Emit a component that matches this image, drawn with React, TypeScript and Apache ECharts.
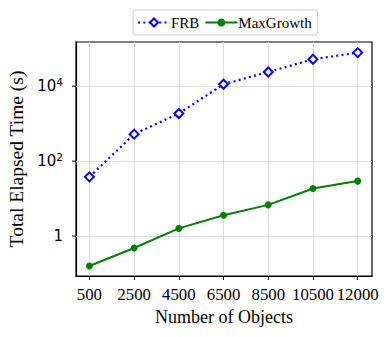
import React, { useEffect, useRef } from 'react';
import * as echarts from 'echarts';

const categories = ['500', '2500', '4500', '6500', '8500', '10500', '12000'];
const frbTimes = [38, 525, 1870, 11300, 24000, 52500, 79000];
const maxGrowthTimes = [0.158, 0.48, 1.6, 3.6, 6.8, 18.6, 29.3];
const yMajorTicks = [1, 100, 10000];
const yTickLabels = ['{b|1}', '{b|10}{s|2}', '{b|10}{s|4}'];

const SERIF = '"Liberation Serif", "Times New Roman", serif';
const SANS = '"DejaVu Sans", sans-serif';

export default function App() {
  const ref = useRef<HTMLDivElement>(null);
  useEffect(() => {
    const chart = echarts.init(ref.current!, null, { renderer: 'svg' });
    const idx = categories.map((_, i) => i);
    const gridLeft = 76;
    const option: any = {
      animation: false,
      backgroundColor: '#fff',
      grid: {
        left: gridLeft, top: 42, width: 296, height: 234,
        show: true, borderColor: '#000', borderWidth: 1.2, backgroundColor: 'transparent',
        outerBoundsMode: 'none',
      },
      legend: {
        left: 133, top: 10,
        padding: [5, 6, 5, 4],
        itemWidth: 32, itemHeight: 10, itemGap: 5,
        borderColor: '#cccccc', borderWidth: 1, borderRadius: 3,
        textStyle: { fontFamily: SERIF, fontSize: 15, color: '#000', padding: [0, 0, 0, -4] },
        data: ['FRB', 'MaxGrowth'],
      },
      xAxis: {
        type: 'value', min: -0.3, max: 6.32,
        name: 'Number of Objects', nameLocation: 'middle', nameGap: 32,
        nameTextStyle: { fontFamily: SERIF, fontSize: 18, color: '#000' },
        axisLine: { onZero: false, lineStyle: { color: '#000', width: 1.2 } },
        axisTick: { show: true, inside: false, length: 4, customValues: idx, lineStyle: { color: '#000', width: 1 } },
        axisLabel: {
          customValues: idx, margin: 10,
          formatter: (v: number) => categories[Math.round(v)] ?? '',
          fontFamily: SERIF, fontSize: 16.8, color: '#000',
        },
        splitLine: { show: true, lineStyle: { color: '#dcdcdc', width: 1 } },
      },
      yAxis: {
        type: 'log', logBase: 10, min: 0.0857, max: 151700,
        name: 'Total Elapsed Time (s)', nameLocation: 'middle', nameGap: 48,
        nameTextStyle: { fontFamily: SERIF, fontSize: 19.5, color: '#000' },
        axisLine: { onZero: false, lineStyle: { color: '#000', width: 1.2 } },
        axisTick: { show: false },
        splitLine: { show: false },
        axisLabel: {
          margin: 13, showMinLabel: false, showMaxLabel: false,
          formatter: (v: number) => {
            for (let k = 0; k < yMajorTicks.length; k++) {
              if (Math.abs(Math.log10(v) - Math.log10(yMajorTicks[k])) < 1e-6) return yTickLabels[k];
            }
            return '';
          },
          color: '#000',
          rich: {
            b: { fontFamily: SANS, fontSize: 15, color: '#000' },
            s: { fontFamily: SANS, fontSize: 10.5, color: '#000', padding: [0, 0, 8, 0] },
          },
        },
      },
      series: [
        {
          name: 'FRB', type: 'line',
          data: idx.map((i) => [i, frbTimes[i]]),
          symbol: 'emptyDiamond', symbolSize: 9,
          itemStyle: { color: '#0000ff', borderWidth: 1.6 },
          lineStyle: { color: '#0000ff', width: 2.2, type: [2, 3.3] },
          z: 3,
          markLine: {
            silent: true, symbol: 'none', z: 1,
            label: { show: false },
            lineStyle: { color: '#dcdcdc', type: 'solid', width: 1 },
            data: yMajorTicks.map((v) => ({ yAxis: v })),
          },
        },
        {
          name: 'MaxGrowth', type: 'line',
          data: idx.map((i) => [i, maxGrowthTimes[i]]),
          symbol: 'circle', symbolSize: 7,
          itemStyle: { color: '#008000' },
          lineStyle: { color: '#008000', width: 2 },
          z: 3,
        },
      ],
    };
    chart.setOption(option);
    const ticks = yMajorTicks.map((v) => {
      const y = chart.convertToPixel({ yAxisIndex: 0 }, v) as number;
      return {
        type: 'line',
        shape: { x1: gridLeft - 4, y1: y, x2: gridLeft, y2: y },
        style: { stroke: '#000', lineWidth: 1 },
      };
    });
    chart.setOption({ graphic: ticks });
    return () => chart.dispose();
  }, []);
  return <div ref={ref} style={{ position: 'fixed', left: 0, top: 0, width: 391, height: 337 }} />;
}
